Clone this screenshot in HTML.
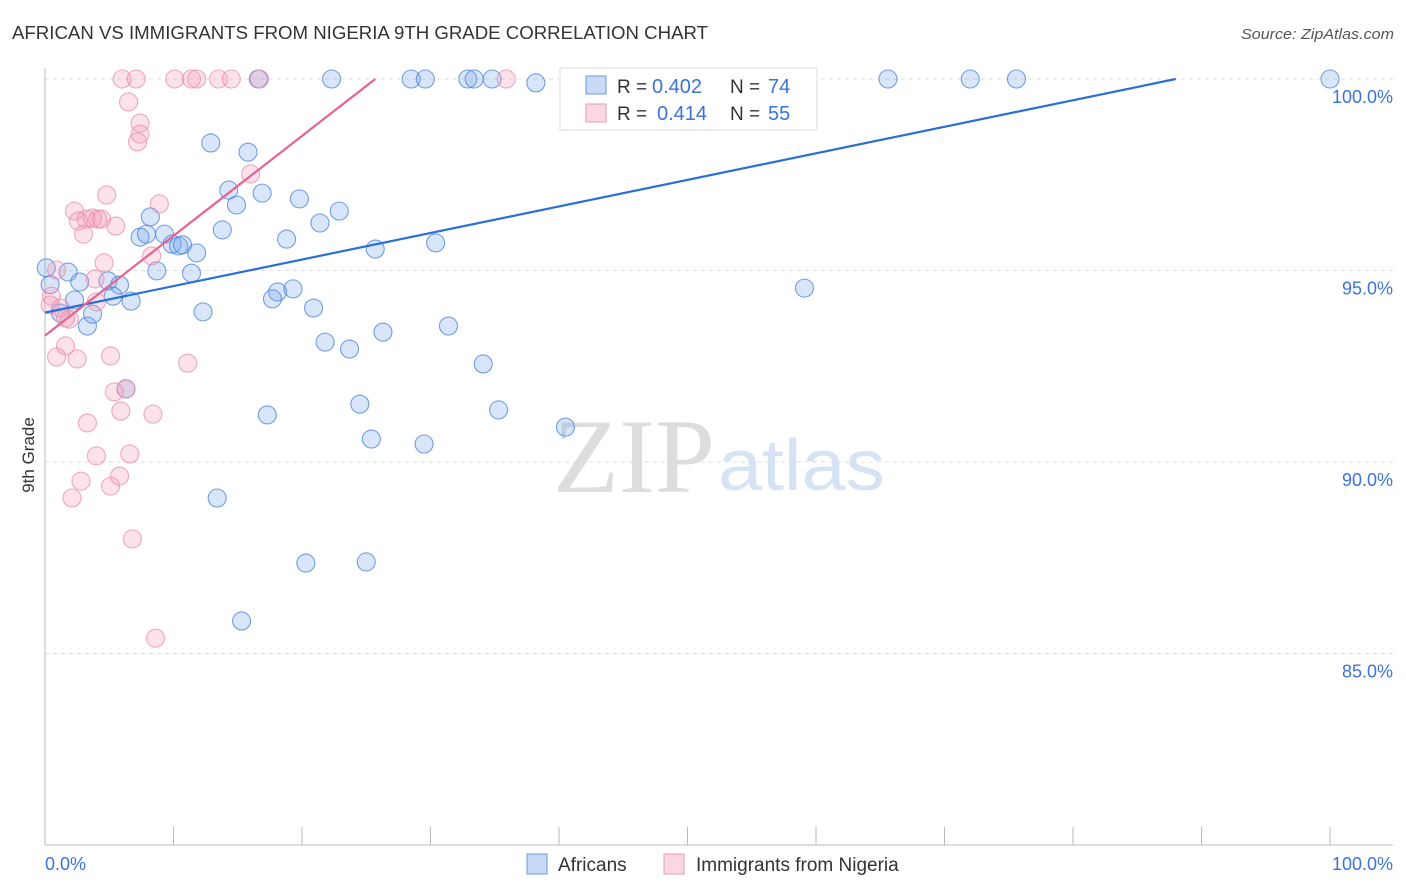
<!DOCTYPE html>
<html><head><meta charset="utf-8"><style>
body{margin:0;background:#fff;font-family:"Liberation Sans",sans-serif}
svg{display:block}
</style></head><body>
<svg width="1406" height="892">
<text x="12" y="39" font-size="18" fill="#333" textLength="696" lengthAdjust="spacingAndGlyphs">AFRICAN VS IMMIGRANTS FROM NIGERIA 9TH GRADE CORRELATION CHART</text>
<text x="1394" y="39" font-size="15" fill="#555" font-style="italic" text-anchor="end" textLength="153" lengthAdjust="spacingAndGlyphs">Source: ZipAtlas.com</text>
<text transform="translate(34,455) rotate(-90)" font-size="17" fill="#333" text-anchor="middle">9th Grade</text>
<g><text x="553" y="492" font-size="106" fill="#ddd" font-family="Liberation Serif,serif" textLength="162" lengthAdjust="spacingAndGlyphs">ZIP</text><text x="718" y="490" font-size="72" fill="#d5e3f5" textLength="167" lengthAdjust="spacingAndGlyphs">atlas</text></g>
<g id="grid"></g><g id="axes"></g><g id="marks"></g>
<g>
<rect x="560" y="68" width="257" height="62" fill="#fff" stroke="#ddd"/>
<rect x="586" y="76" width="20" height="18" fill="rgba(100,150,230,0.35)" stroke="#6a9ae0"/>
<rect x="586" y="104" width="20" height="18" fill="rgba(240,140,170,0.35)" stroke="#ee9ab5"/>
<text x="617" y="93" font-size="19" fill="#333">R =</text><text x="652" y="93" font-size="20" fill="#3b73d9">0.402</text>
<text x="730" y="93" font-size="19" fill="#333">N =</text><text x="768" y="93" font-size="20" fill="#3b73d9">74</text>
<text x="617" y="120" font-size="19" fill="#333">R =</text><text x="657" y="120" font-size="20" fill="#3b73d9">0.414</text>
<text x="730" y="120" font-size="19" fill="#333">N =</text><text x="768" y="120" font-size="20" fill="#3b73d9">55</text>
</g>
<g>
<rect x="527" y="854" width="20" height="20" fill="rgba(100,150,230,0.35)" stroke="#6a9ae0"/>
<text x="558" y="871" font-size="19" fill="#333">Africans</text>
<rect x="664" y="854" width="20" height="20" fill="rgba(240,140,170,0.35)" stroke="#ee9ab5"/>
<text x="696" y="871" font-size="19" fill="#333">Immigrants from Nigeria</text>
</g>
</svg>
<script>
const yTicks=[100,95,90,85];
const yTickLabels=["100.0%","95.0%","90.0%","85.0%"];
const xEndLabels=["0.0%","100.0%"];
const blueX=[0.1,0.4,1.8,2.7,4.9,5.8,2.3,1.2,3.3,3.7,5.3,6.7,6.3,7.4,7.9,8.2,9.3,9.9,10.4,10.7,8.7,11.4,11.8,12.3,12.9,13.8,14.3,14.9,15.8,16.9,19.8,18.8,21.4,22.9,18.1,17.7,19.3,20.9,21.8,23.7,26.3,25.7,24.5,25.4,17.3,13.4,20.3,25.0,15.3,29.5,31.4,34.1,35.3,40.5,30.4,59.1,41.9,55.6,16.6,22.3,28.5,29.6,32.9,33.4,34.8,38.2,42.4,54.5,65.6,72.0,75.6,100];
const blueY=[95.07,94.63,94.96,94.70,94.73,94.62,94.23,93.89,93.55,93.86,94.33,94.20,91.91,95.87,95.95,96.40,95.95,95.69,95.64,95.67,94.99,94.93,95.46,93.92,98.33,96.06,97.10,96.71,98.09,97.02,96.87,95.82,96.24,96.55,94.44,94.26,94.52,94.02,93.13,92.95,93.39,95.56,91.51,90.60,91.23,89.06,87.36,87.39,85.85,90.47,93.55,92.56,91.36,90.91,95.72,94.54,99.14,99.11,100,100,100,100,100,100,100,99.9,100,100,100,100,100,100];
const pinkX=[6.0,7.1,10.1,11.4,11.8,13.5,14.5,16.7,35.9,6.5,7.4,7.4,7.2,4.8,8.9,2.3,2.6,3.2,3.7,4.1,4.4,3.0,5.5,8.3,16.0,4.6,3.9,0.9,0.5,0.4,1.2,1.6,1.9,4.0,1.6,0.9,2.5,5.1,11.1,5.4,6.3,5.9,8.4,3.3,4.0,6.6,5.8,2.8,5.1,2.1,6.8,8.6];
const pinkY=[100,100,100,100,100,100,100,100,100,99.40,98.85,98.56,98.36,96.97,96.74,96.55,96.29,96.34,96.37,96.34,96.34,95.95,96.16,95.38,97.52,95.20,94.78,95.01,94.33,94.10,94.02,93.76,93.73,94.18,93.03,92.74,92.69,92.77,92.58,91.83,91.91,91.33,91.25,91.02,90.16,90.21,89.63,89.50,89.37,89.06,87.99,85.40];
const blueTrend=[93.9,6.1/88];
const pinkTrend=[93.3,6.7/25.7];
const NS="http://www.w3.org/2000/svg";
const X=v=>45+v*12.85, Y=v=>79+(100-v)*38.3;
function mk(t,a,p){const e=document.createElementNS(NS,t);for(const k in a)e.setAttribute(k,a[k]);p.appendChild(e);return e;}
const grid=document.getElementById('grid'),axes=document.getElementById('axes'),marks=document.getElementById('marks');
yTicks.forEach((t,i)=>{
 const l=mk('line',{x1:45,x2:1393,y1:Y(t),y2:Y(t),stroke:'#ddd','stroke-dasharray':'4,4'},grid);
 
 
 const tx=mk('text',{x:1393,y:Y(t)+24,'font-size':18,fill:'#3b73d9','text-anchor':'end'},axes);tx.textContent=yTickLabels[i];
 
 
});
mk('line',{x1:45,x2:45,y1:68,y2:845,stroke:'#bbb'},axes);
mk('line',{x1:45,x2:1393,y1:845,y2:845,stroke:'#bbb'},axes);
for(let i=0;i<=10;i++){mk('line',{x1:X(i*10),x2:X(i*10),y1:827,y2:845,stroke:'#bbb'},axes);}
const t0=mk('text',{x:45,y:870,'font-size':18,fill:'#3b73d9'},axes);t0.textContent=xEndLabels[0];


const t1=mk('text',{x:1393,y:870,'font-size':18,fill:'#3b73d9','text-anchor':'end'},axes);t1.textContent=xEndLabels[1];


function pts(xs,ys,fill,stroke,name){xs.forEach((x,i)=>{const c=mk('circle',{cx:X(x),cy:Y(ys[i]),r:9,fill:fill,stroke:stroke,'stroke-width':1.1},marks);
 
 });}
pts(blueX,blueY,'rgba(120,165,235,0.28)','rgba(70,130,220,0.75)','africans-point');
pts(pinkX,pinkY,'rgba(245,150,180,0.28)','rgba(235,140,175,0.75)','nigeria-point');
function trend(tr,col,name){const xe=Math.min(100,(100-tr[0])/tr[1]);const l=mk('line',{x1:X(0),y1:Y(tr[0]),x2:X(xe),y2:Y(tr[0]+tr[1]*xe),stroke:col,'stroke-width':2.2},marks);
 
 }
trend(blueTrend,'#2a6fd6','africans-trendline');
trend(pinkTrend,'#e8628d','nigeria-trendline');
</script>
</body></html>
